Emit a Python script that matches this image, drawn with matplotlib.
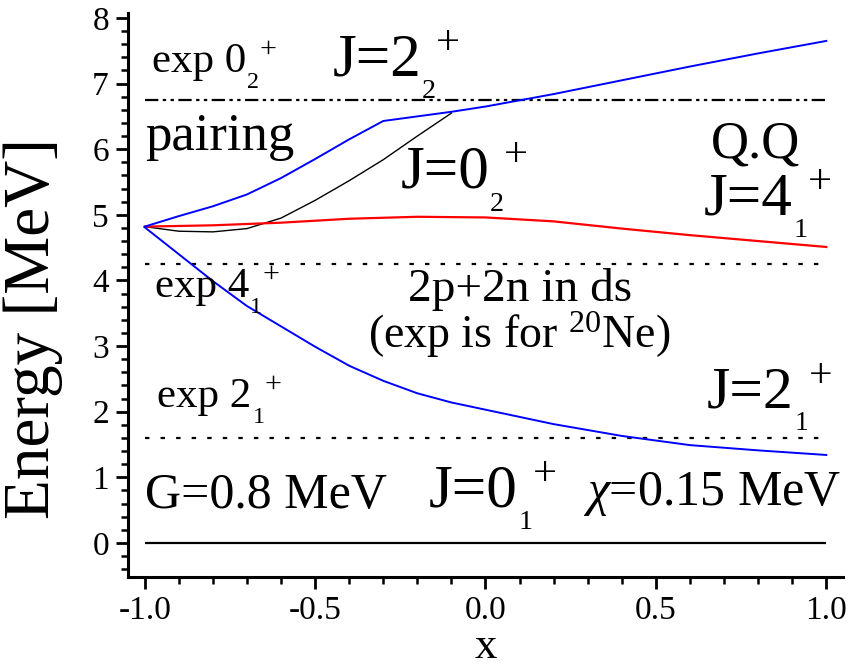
import matplotlib
matplotlib.use('Agg')
import matplotlib.pyplot as plt
from matplotlib.ticker import MultipleLocator, FormatStrFormatter
from matplotlib.transforms import ScaledTranslation

plt.rcParams['font.family'] = 'Liberation Serif'
plt.rcParams['mathtext.fontset'] = 'custom'
plt.rcParams['mathtext.rm'] = 'Liberation Serif'
plt.rcParams['mathtext.it'] = 'Liberation Serif:italic'
plt.rcParams['axes.unicode_minus'] = False

# mixing parameter x and calculated levels (MeV)
x = [-1.0, -0.9, -0.8, -0.7, -0.6, -0.5, -0.4, -0.3, -0.2, -0.1, 0.0, 0.2, 0.4, 0.6, 0.8, 1.0]
e_2_1 = [4.81, 4.40, 3.99, 3.61, 3.30, 2.99, 2.70, 2.47, 2.28, 2.14, 2.03, 1.81, 1.63, 1.49, 1.41, 1.34]
e_2_2 = [4.82, 4.98, 5.13, 5.31, 5.56, 5.85, 6.15, 6.43, 6.50, 6.57, 6.65, 6.84, 7.05, 7.26, 7.46, 7.65]
x_0_2 = [-1.0, -0.9, -0.8, -0.7, -0.6, -0.5, -0.4, -0.3, -0.2, -0.1]
e_0_2 = [4.82, 4.75, 4.74, 4.79, 4.95, 5.22, 5.52, 5.84, 6.20, 6.55]
x_4_1 = [-1.0, -0.8, -0.6, -0.4, -0.2, 0.0, 0.2, 0.4, 0.6, 0.8, 1.0]
e_4_1 = [4.82, 4.84, 4.88, 4.94, 4.97, 4.96, 4.90, 4.79, 4.69, 4.60, 4.51]
ground = 0.0

# experimental levels of 20Ne
exp_2_1 = 1.60
exp_4_1 = 4.25
exp_0_2 = 6.75

fig = plt.figure(figsize=(8.51, 6.69), dpi=100)
ax = fig.add_axes([0.150, 0.1375, 0.841, 0.8435])

ax.hlines(ground, -1, 1, color='black', lw=1.6)
ax.hlines(exp_2_1, -1, 1, color='black', lw=1.6, linestyles=[(0, (2, 5))])
ax.hlines(exp_4_1, -1, 1, color='black', lw=1.6, linestyles=[(0, (2, 5))])
ax.hlines(exp_0_2, -1, 1, color='black', lw=1.6, linestyles=[(0, (6, 2, 1.5, 2, 1.5, 2))])

ax.plot(x_0_2, e_0_2, color='black', lw=1.0)
ax.plot(x_4_1, e_4_1, color='red', lw=1.6)
ax.plot(x, e_2_1, color='blue', lw=1.4)
ax.plot(x, e_2_2, color='blue', lw=1.4)

ax.set_xlim(-1.05, 1.05)
ax.set_ylim(-0.52, 8.08)
ax.xaxis.set_major_locator(MultipleLocator(0.5))
ax.xaxis.set_minor_locator(MultipleLocator(0.1))
ax.xaxis.set_major_formatter(FormatStrFormatter('%.1f'))
ax.yaxis.set_major_locator(MultipleLocator(1))
ax.yaxis.set_minor_locator(MultipleLocator(0.2))

for s in ['top', 'right']:
    ax.spines[s].set_visible(False)
for s in ['left', 'bottom']:
    ax.spines[s].set_linewidth(2.2)
ax.tick_params(which='major', direction='out', length=8.5, width=2, labelsize=24, pad=5)
ax.tick_params(which='minor', direction='out', length=5, width=1.8)

ax.set_xlabel('x', fontsize=32)
ax.xaxis.set_label_coords(0.5, -0.088)
ax.set_ylabel('Energy [MeV]', fontsize=47)
ax.yaxis.set_label_coords(-0.09, 0.44)

renderer = fig.canvas.get_renderer()


def level_label(x0, y0, main, sub, size, sub_frac=0.46):
    # main text, then a dropped subscript and a raised "+" after it
    t = ax.text(x0, y0, main, fontsize=size)
    w = t.get_window_extent(renderer).width / fig.dpi
    off = ScaledTranslation(w + 0.01, -0.37 * size / 72, fig.dpi_scale_trans)
    s = ax.text(x0, y0, sub, fontsize=size * sub_frac, transform=ax.transData + off)
    ws = s.get_window_extent(renderer).width / fig.dpi
    off = ScaledTranslation(w + ws + 0.01, 0.52 * size / 72, fig.dpi_scale_trans)
    ax.text(x0, y0, '+', fontsize=size * 0.7, va='center', transform=ax.transData + off)


level_label(-0.978, 7.18, 'exp 0', '2', 31, 0.56)
level_label(-0.449, 7.13, 'J=2', '2', 44)
level_label(-0.25, 5.41, 'J=0', '2', 44)
level_label(0.64, 5.00, 'J=4', '1', 44)
level_label(-0.97, 3.75, 'exp 4', '1', 31, 0.56)
level_label(-0.963, 2.07, 'exp 2', '1', 31, 0.56)
level_label(0.65, 2.06, 'J=2', '1', 43)
level_label(-0.167, 0.55, 'J=0', '1', 44)

ax.text(-0.998, 5.99, 'pairing', fontsize=38)
ax.text(0.66, 5.88, 'Q.Q', fontsize=38)
ax.text(0.10, 3.69, '2p+2n in ds', fontsize=34, ha='center')
ax.text(0.10, 2.97, r'(exp is for $^{20}$Ne)', fontsize=33, ha='center')
ax.text(-1.0, 0.53, 'G=0.8 MeV', fontsize=36)
ax.text(0.285, 0.58, r'$\chi$=0.15 MeV', fontsize=36)

fig.savefig('out.png', dpi=100)
